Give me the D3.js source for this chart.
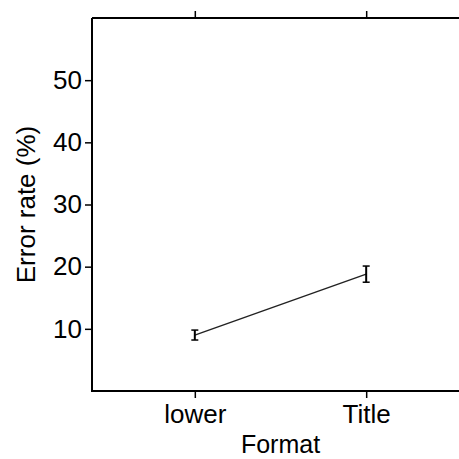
<!DOCTYPE html>
<html><head><meta charset="utf-8">
<script src="https://cdn.jsdelivr.net/npm/d3@7"></script>
<style>body{margin:0;background:#fff}svg{display:block}text{font-family:"Liberation Sans",Arial,sans-serif;fill:#000}</style>
</head><body>
<script>
const categories = ["lower", "Title"];
const means = [9.0, 18.8];
const errLow = [8.2, 17.5];
const errHigh = [9.8, 20.1];
const yTicks = [10, 20, 30, 40, 50];
const xLabel = "Format";
const yLabel = "Error rate (%)";

(function () {
const W = 459, H = 459;
const FS = 26;
const svg = d3.select("body").append("svg").attr("width", W).attr("height", H);
const pLeft = 92, pRight = 469, pTop = 18, pBottom = 391;

const x = d3.scalePoint().domain(categories).range([pLeft, pRight]).padding(0.6);
const y = d3.scaleLinear().domain([0, 60]).range([pBottom, pTop]);

// frame
svg.append("path").attr("d", `M${pLeft},${pTop}H${W+5}M${pLeft},${pTop}V${pBottom}H${W+5}`)
  .attr("fill", "none").attr("stroke", "#000").attr("stroke-width", 2);

// y axis
const ya = svg.append("g").attr("transform", `translate(${pLeft},0)`)
  .call(d3.axisLeft(y).tickValues(yTicks).tickSize(7).tickPadding(3));
ya.select(".domain").remove();
ya.selectAll(".tick line").attr("stroke", "#000").attr("stroke-width", 1.5);
ya.selectAll(".tick text").attr("font-size", FS).attr("font-family", "Liberation Sans, Arial, sans-serif");

// bottom x axis
const xa = svg.append("g").attr("transform", `translate(0,${pBottom})`)
  .call(d3.axisBottom(x).tickSize(7).tickPadding(7));
xa.select(".domain").remove();
xa.selectAll(".tick line").attr("stroke", "#000").attr("stroke-width", 1.5);
xa.selectAll(".tick text").attr("font-size", FS).attr("font-family", "Liberation Sans, Arial, sans-serif");

// top ticks
const xt = svg.append("g").attr("transform", `translate(0,${pTop})`)
  .call(d3.axisTop(x).tickSize(7).tickFormat(""));
xt.select(".domain").remove();
xt.selectAll(".tick line").attr("stroke", "#000").attr("stroke-width", 1.5);

// data line
const pts = categories.map((c, i) => ({c, m: means[i], lo: errLow[i], hi: errHigh[i]}));
svg.append("path").datum(pts)
  .attr("d", d3.line().x(d => x(d.c)).y(d => y(d.m)))
  .attr("fill", "none").attr("stroke", "#222").attr("stroke-width", 1.4);

// error bars
const eb = svg.append("g").attr("stroke", "#000").attr("stroke-width", 2).attr("fill", "none");
pts.forEach(d => {
  const cx = x(d.c);
  eb.append("line").attr("x1", cx).attr("x2", cx).attr("y1", y(d.lo)).attr("y2", y(d.hi));
  eb.append("line").attr("x1", cx - 3.5).attr("x2", cx + 3.5).attr("y1", y(d.lo)).attr("y2", y(d.lo)).attr("stroke-width", 1.5);
  eb.append("line").attr("x1", cx - 3.5).attr("x2", cx + 3.5).attr("y1", y(d.hi)).attr("y2", y(d.hi)).attr("stroke-width", 1.5);
});

// axis titles
svg.append("text").attr("x", (pLeft + pRight) / 2).attr("y", 453).attr("text-anchor", "middle")
  .attr("font-size", 25).text(xLabel);
svg.append("text").attr("transform", `translate(35,${(pTop + pBottom) / 2}) rotate(-90)`)
  .attr("text-anchor", "middle").attr("font-size", FS).text(yLabel);
})();
</script>
</body></html>
